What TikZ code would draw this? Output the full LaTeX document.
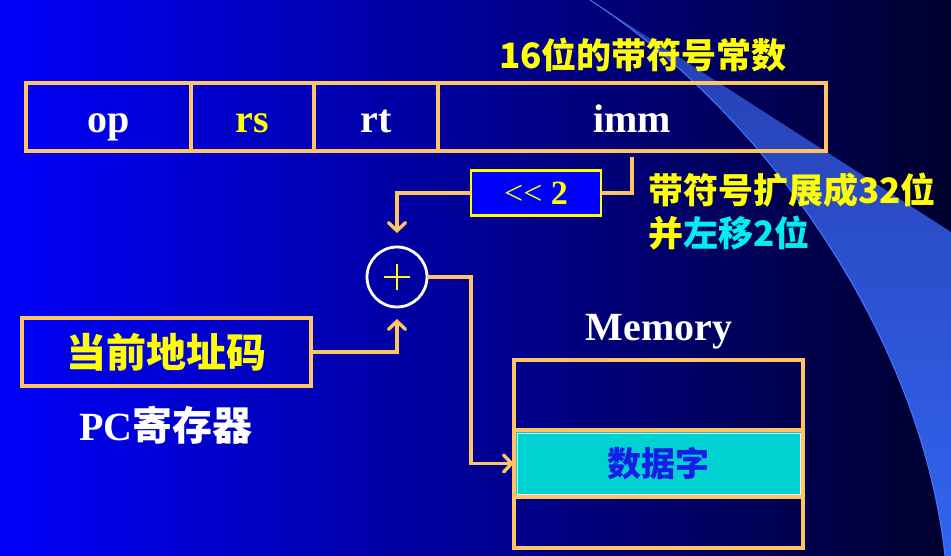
\documentclass[tikz,border=0pt]{standalone}
\usepackage{fontspec}
\setmainfont{Liberation Serif}
\newfontfamily\cjk{Noto Sans CJK SC}
\usetikzlibrary{arrows.meta,positioning}
\definecolor{wireorange}{RGB}{255,196,100}
\definecolor{bgleft}{RGB}{0,0,250}
\definecolor{bgmid}{RGB}{0,0,195}
\definecolor{bgright}{RGB}{0,0,45}
\definecolor{swooshtop}{RGB}{38,62,175}
\definecolor{swooshbot}{RGB}{50,100,240}
\definecolor{swooshedge}{RGB}{70,120,255}
\definecolor{datacyan}{RGB}{0,210,210}
\definecolor{txtyellow}{RGB}{255,255,0}
\definecolor{txtcyan}{RGB}{0,238,238}
\definecolor{datablue}{RGB}{20,30,230}

\begin{document}
\begin{tikzpicture}[x=1pt,y=-1pt,node distance=0pt,
  >={Straight Barb[length=8pt,width=17pt,line cap=round]},
  cell/.style={draw=wireorange,line width=3.4pt,minimum height=68pt,inner sep=0pt,
    outer sep=0pt,text=white,text height=36pt,text depth=4pt,
    font=\fontsize{40}{40}\selectfont\bfseries},
  membox/.style={draw=wireorange,line width=3.4pt,minimum width=289pt,inner sep=0pt,outer sep=0pt},
  cjklabel/.style={inner sep=0pt,text=txtyellow,font=\fontsize{35}{35}\selectfont\cjk\bfseries},
  wire/.style={draw=wireorange,line width=3.4pt}]
  \useasboundingbox (0,0) rectangle (951,556);
  % background and swoosh
  \shade[left color=bgleft,middle color=bgmid,right color=bgright] (0,0) rectangle (951,556);
  \shade[top color=swooshtop,bottom color=swooshbot] (590,0) -- (951,232) -- (951,556)
    -- (945,556) .. controls (920,330) and (760,110) .. (590,0) -- cycle;
  \draw[swooshedge,line width=1pt] (945,556) .. controls (920,330) and (760,110) .. (590,0);

  % instruction format
  \node[cell,minimum width=165pt,anchor=west] (op) at (26,117) {op};
  \node[cell,minimum width=123pt,text=txtyellow,right=of op] (rs) {rs};
  \node[cell,minimum width=124pt,right=of rs] (rt) {rt};
  \node[cell,minimum width=388pt,right=of rt] (imm) {imm};
  \node[cjklabel] (immlabel) at (643,55) {16位的带符号常数};

  % shift and adder
  \node[draw=txtyellow,fill=blue,line width=2.8pt,minimum width=130pt,minimum height=45pt,
    inner sep=0pt,outer sep=0pt,text=txtyellow,font=\fontsize{34}{34}\selectfont]
    (shift) at (536,193) {{<}{<} \textbf{2}};
  \node[cjklabel,anchor=west] (extlabel) at (648,190) {带符号扩展成32位};
  \node[cjklabel,anchor=west] (shllabel) at (648,233) {并\textcolor{txtcyan}{左移2位}};
  \node[circle,draw=white,line width=2.8pt,minimum size=60pt,inner sep=0pt,outer sep=0pt]
    (adder) at (397,277) {};
  \draw[txtyellow,line width=2pt] ([xshift=-13pt]adder.center) -- ([xshift=13pt]adder.center)
    ([yshift=-13pt]adder.center) -- ([yshift=13pt]adder.center);

  % PC
  \node[draw=wireorange,line width=3.4pt,minimum width=289pt,minimum height=68pt,outer sep=0pt,
    text=txtyellow,font=\fontsize{40}{40}\selectfont\cjk\bfseries] (pc) at (166.5,352) {当前地址码};
  \node[text=white,font=\fontsize{40}{40}\selectfont\bfseries] (pclabel) at (166,425)
    {PC{\cjk 寄存器}};

  % memory
  \node[text=white,font=\fontsize{40}{40}\selectfont\bfseries] (memlabel) at (659,332) {Memory};
  \node[membox,minimum height=70pt] (row1) at (658.5,395) {};
  \node[membox,minimum height=67pt,fill=datacyan,below=of row1,text=datablue,
    font=\fontsize{34}{34}\selectfont\cjk\bfseries] (data) {数据字};
  \node[membox,minimum height=51pt,below=of data] (row3) {};
  \draw[white,line width=0.8pt] ([shift={(3pt,-3pt)}]data.north west)
    rectangle ([shift={(-3pt,3pt)}]data.south east);

  % connectors
  \coordinate (bend) at ([xshift=44pt]adder.east);
  \draw[wire] ([yshift=-6pt]imm.south) |- (shift.east);
  \draw[wire,->] (shift.west) -| ([yshift=14pt]adder.north);
  \draw[wire,->] (pc.east) -| ([yshift=-12pt]adder.south);
  \draw[wire,->] (adder.east) -- (bend) |- (data.west);
\end{tikzpicture}
\end{document}
